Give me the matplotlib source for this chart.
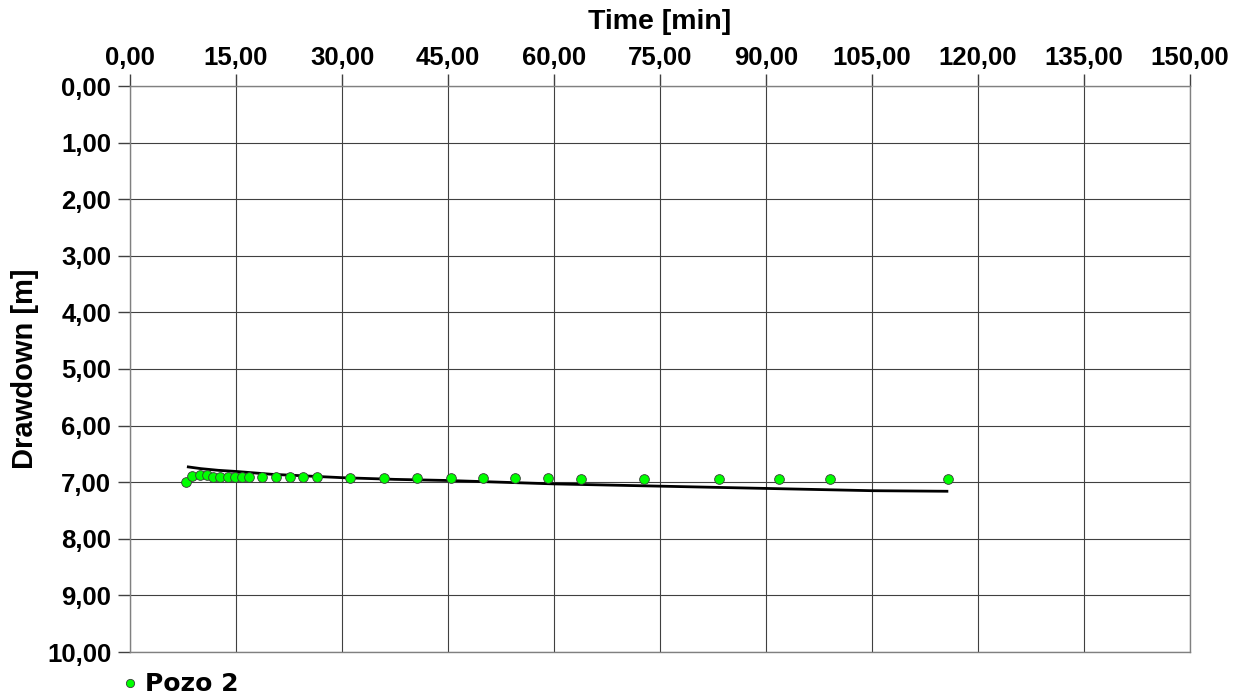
import matplotlib
matplotlib.use("Agg")
import matplotlib.pyplot as plt
from matplotlib.ticker import FuncFormatter

# Observed data (Pozo 2)
time_obs = [7.9, 8.8, 9.9, 10.9, 11.8, 12.7, 13.8, 14.8, 15.8, 16.8, 18.7, 20.7,
            22.6, 24.5, 26.4, 31.2, 35.9, 40.6, 45.4, 49.9, 54.5, 59.1, 63.8,
            72.7, 83.3, 91.9, 99.0, 115.8]
drawdown_obs = [7.00, 6.89, 6.87, 6.88, 6.90, 6.90, 6.90, 6.90, 6.90, 6.90, 6.91, 6.91,
                6.91, 6.91, 6.91, 6.92, 6.92, 6.92, 6.93, 6.93, 6.93, 6.93, 6.94,
                6.94, 6.94, 6.94, 6.94, 6.95]

# Fitted curve
time_fit = [8.25, 10.0, 12.5, 15.0, 20.0, 25.0, 30.0, 37.5, 45.0, 52.5, 60.0,
            67.5, 75.0, 82.5, 90.0, 97.5, 105.0, 115.6]
drawdown_fit = [6.73, 6.76, 6.79, 6.81, 6.86, 6.89, 6.92, 6.95, 6.97, 7.00, 7.03,
                7.05, 7.07, 7.09, 7.11, 7.13, 7.15, 7.16]

xticks = [0, 15, 30, 45, 60, 75, 90, 105, 120, 135, 150]
yticks = [0, 1, 2, 3, 4, 5, 6, 7, 8, 9, 10]

fig = plt.figure(figsize=(12.42, 6.99), dpi=100)
ax = fig.add_axes([130/1242, 1-652/699, 1060/1242, 566/699])

ax.plot(time_fit, drawdown_fit, color="black", lw=2.0, zorder=3)
ax.plot(time_obs, drawdown_obs, ls="none", marker="o", ms=7.0,
        markerfacecolor="#00ff00", markeredgecolor="#3a3a3a", markeredgewidth=0.6,
        zorder=4, label="Pozo 2")

ax.set_xlim(0, 150)
ax.set_ylim(10, 0)
ax.set_xticks(xticks)
ax.set_yticks(yticks)
fmt = FuncFormatter(lambda v, p: f"{v:.2f}".replace(".", ","))
ax.xaxis.set_major_formatter(fmt)
ax.yaxis.set_major_formatter(fmt)
ax.xaxis.tick_top()
ax.xaxis.set_label_position("top")

for lab in ax.get_xticklabels() + ax.get_yticklabels():
    lab.set_fontfamily("Liberation Sans")
    lab.set_fontweight("bold")
    lab.set_fontsize(18.5)
ax.tick_params(axis="x", direction="out", length=8.5, width=1, color="#404040", pad=3)
ax.tick_params(axis="y", direction="out", length=8.5, width=1, color="#404040", pad=5)

ax.grid(True, color="#404040", lw=0.8)
ax.set_axisbelow(True)
for s in ax.spines.values():
    s.set_color("#808080")
    s.set_linewidth(1)

ax.set_xlabel("Time [min]", fontfamily="Liberation Sans", fontweight="bold", fontsize=20.5, labelpad=12)
ax.set_ylabel("Drawdown [m]", fontfamily="Liberation Sans", fontweight="bold", fontsize=21, labelpad=6)

leg = ax.legend(loc="upper left", bbox_to_anchor=(-0.022, -0.014), frameon=False,
                handletextpad=0.15, handlelength=0.9, markerscale=0.85,
                borderaxespad=0.1,
                prop=dict(family="DejaVu Sans", weight="bold", size=18))

fig.savefig("out.png", dpi=100)
